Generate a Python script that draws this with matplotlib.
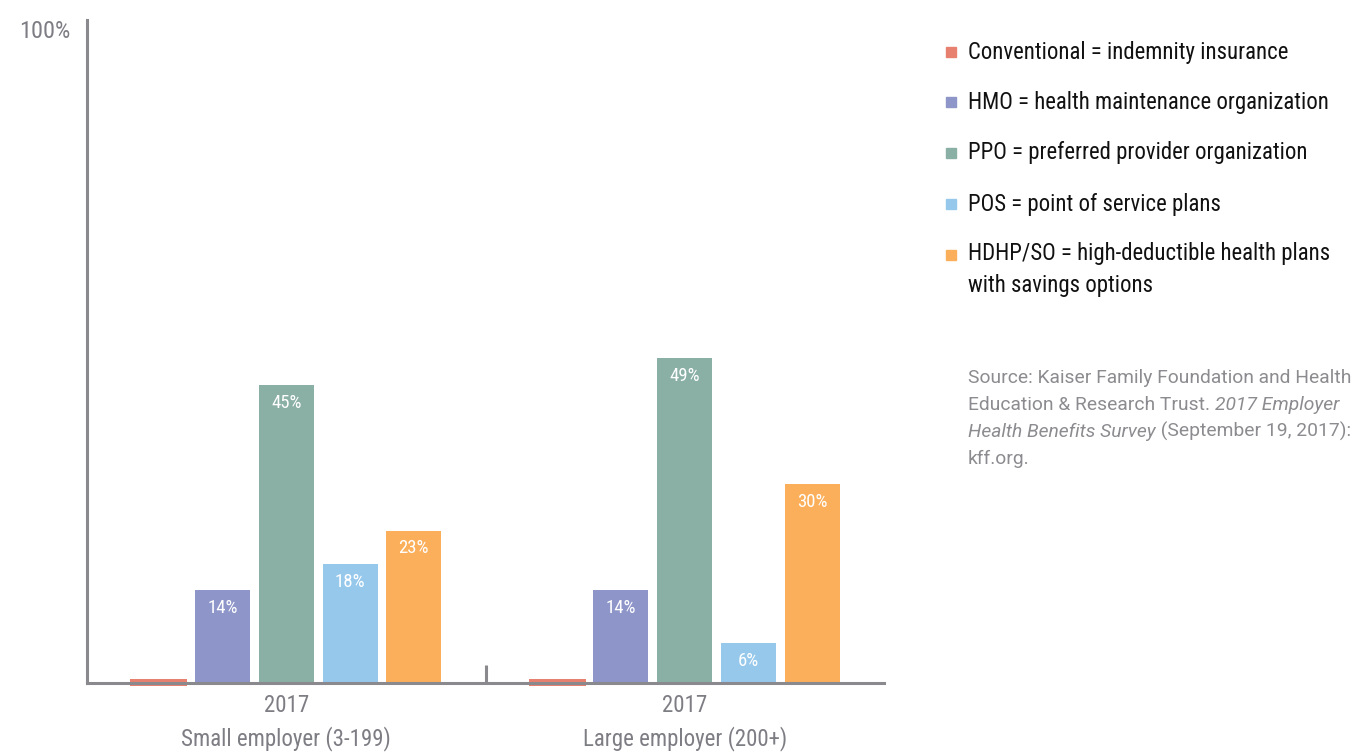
import matplotlib
matplotlib.use("Agg")
import matplotlib.pyplot as plt
from matplotlib import font_manager
from matplotlib.patches import Rectangle
import numpy as np

groups = ["2017\nSmall employer (3-199)", "2017\nLarge employer (200+)"]
series = ["Conventional", "HMO", "PPO", "POS", "HDHP/SO"]
values = {
    "Conventional": [0.6, 0.6],
    "HMO": [14, 14],
    "PPO": [45, 49],
    "POS": [18, 6],
    "HDHP/SO": [23, 30],
}
value_labels = {
    "Conventional": ["", ""],
    "HMO": ["14%", "14%"],
    "PPO": ["45%", "49%"],
    "POS": ["18%", "6%"],
    "HDHP/SO": ["23%", "30%"],
}
legend_labels = [
    "Conventional = indemnity insurance",
    "HMO = health maintenance organization",
    "PPO = preferred provider organization",
    "POS = point of service plans",
    "HDHP/SO = high-deductible health plans\nwith savings options",
]
colors = ["#E8806F", "#8D95C9", "#8AAFA5", "#96C8EC", "#FBAF5A"]

names = {f.name for f in font_manager.fontManager.ttflist}
cond = None
for cand in ["Liberation Sans Narrow", "Roboto Condensed", "Open Sans Condensed", "DejaVu Sans Condensed"]:
    if cand in names:
        cond = cand
        break
if cond is None:
    cond = "DejaVu Sans"
cond_fam = [cond, "DejaVu Sans"]
src_fam = ["Roboto", "DejaVu Sans"]

W, H = 1358, 753
fig = plt.figure(figsize=(W / 100, H / 100), dpi=100)
ax = fig.add_axes([87 / W, (H - 683) / H, (884 - 87) / W, (683 - 20) / H])

gray = "#8A8A8E"
txtgray = "#7D7D84"
step = 0.16
bw = 0.138
x = np.arange(len(groups))
for i, s in enumerate(series):
    offs = (i - 2) * step
    v = values[s]
    if s == "Conventional":
        ax.bar(x + offs, [vv + 0.5 for vv in v], width=bw + 0.006, bottom=-0.5,
               color=colors[i], zorder=1, clip_on=False)
    else:
        ax.bar(x + offs, v, width=bw, color=colors[i], zorder=1)
    for j, lab in enumerate(value_labels[s]):
        if lab:
            ax.text(x[j] + offs, v[j] - 2.7, lab, ha="center", va="center",
                    color="white", fontsize=13.5, family=cond_fam, zorder=3)

ax.set_xlim(-0.5, 1.5)
ax.set_ylim(0, 100)
for sp in ["top", "right"]:
    ax.spines[sp].set_visible(False)
for sp in ["left", "bottom"]:
    ax.spines[sp].set_color(gray)
    ax.spines[sp].set_linewidth(2.2)
    ax.spines[sp].set_zorder(2)
ax.spines["left"].set_bounds(0, 100)

ax.set_yticks([100])
ax.set_yticklabels(["100%"], family=cond_fam, fontsize=17.5, color=txtgray)
ax.tick_params(axis="y", length=0, pad=12)
ax.get_yticklabels()[0].set_va("top")

ax.set_xticks(x)
ax.set_xticklabels(groups, family=cond_fam, fontsize=16.5, color=txtgray, linespacing=1.45)
ax.tick_params(axis="x", length=0, pad=8)
# middle separator tick
ax.plot([0.5, 0.5], [0, 2.7], color=gray, lw=2.2, zorder=2, solid_capstyle="butt")

# legend
ys = [52, 102, 153, 204, 255]
for i, (lab, yy) in enumerate(zip(legend_labels, ys)):
    fig.add_artist(Rectangle(((946) / W, (H - yy - 5) / H), 10 / W, 10 / H,
                             transform=fig.transFigure, color=colors[i]))
    if "\n" in lab:
        fig.text(968 / W, (H - yy + 13) / H, lab, ha="left", va="top",
                 family=cond_fam, fontsize=16.4, color="#111111", linespacing=1.5)
    else:
        fig.text(968 / W, (H - yy) / H, lab, ha="left", va="center",
                 family=cond_fam, fontsize=16.4, color="#111111")

# source text
fs = 13.9
sc = "#8C8C90"
fig.text(968 / W, (H - 378) / H, "Source: Kaiser Family Foundation and Health",
         ha="left", va="center", family=src_fam, fontsize=fs, color=sc)
l2a = fig.text(968 / W, (H - 405) / H, "Education & Research Trust. ",
               ha="left", va="center", family=src_fam, fontsize=fs, color=sc)
ax.annotate("2017 Employer", xy=(1, 0), xycoords=l2a, va="bottom", ha="left",
            family=src_fam, fontsize=fs, color=sc, style="italic", annotation_clip=False)
l3a = fig.text(968 / W, (H - 432) / H, "Health Benefits Survey",
               ha="left", va="center", family=src_fam, fontsize=fs, color=sc, style="italic")
ax.annotate(" (September 19, 2017):", xy=(1, 0), xycoords=l3a, va="bottom", ha="left",
            family=src_fam, fontsize=fs, color=sc, annotation_clip=False)
fig.text(968 / W, (H - 459) / H, "kff.org.", ha="left", va="center",
         family=src_fam, fontsize=fs, color=sc)

fig.savefig("out.png", dpi=100, facecolor="white")
